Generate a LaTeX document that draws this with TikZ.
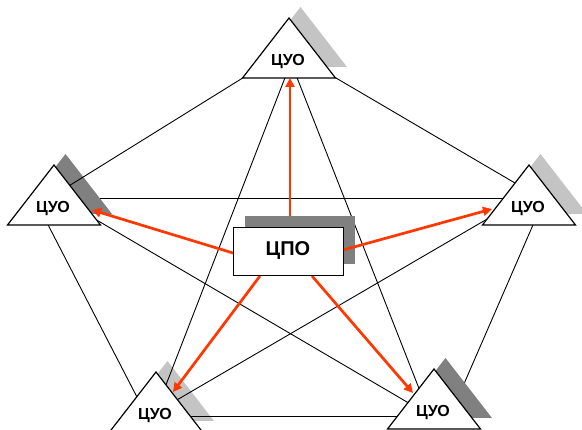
\documentclass[tikz,border=0pt]{standalone}
\usepackage{fontspec}
\setmainfont{Liberation Sans}
\usetikzlibrary{calc,arrows.meta}
\definecolor{lightshade}{RGB}{196,196,196}
\definecolor{darkshade}{RGB}{128,128,128}
\definecolor{boxshade}{RGB}{128,128,128}
\definecolor{linkred}{RGB}{255,55,0}
\begin{document}
\begin{tikzpicture}[x=1pt,y=-1pt,
  link/.style={line width=0.9pt, draw=black},
  tri/.style={draw=black, fill=white, line width=1.2pt},
  cuo/.style={font=\fontsize{16}{19}\selectfont\bfseries, anchor=base, inner sep=0pt},
  cpolabel/.style={font=\fontsize{20}{24}\selectfont\bfseries, anchor=base, inner sep=0pt},
  flow/.style={draw=linkred, line width=2.7pt, -{Triangle[length=9pt,width=9pt]}},
  unitbox/.style={minimum width=110pt, minimum height=48pt, inner sep=0pt, outer sep=0pt}]
\useasboundingbox (0,0) rectangle (582,430);
\clip (0,0) rectangle (582,430);

% apexes of the five unit triangles
\coordinate (T)  at (289,18);
\coordinate (L)  at (54,165);
\coordinate (R)  at (529,165);
\coordinate (BL) at (156,372);
\coordinate (BR) at (434,369);

% connector ends, hidden inside the triangles
\coordinate (TtoL)  at (291,48);    \coordinate (LtoT)  at (62,190.2);
\coordinate (TtoR)  at (291,51.6);  \coordinate (RtoT)  at (525,188.9);
\coordinate (LtoR)  at (54,198.5);  \coordinate (RtoL)  at (529,198.5);
\coordinate (TtoBL) at (288,70);    \coordinate (BLtoT) at (164,390);
\coordinate (TtoBR) at (294,70);    \coordinate (BRtoT) at (420,391);
\coordinate (LtoBL) at (44,217);    \coordinate (BLtoL) at (138.5,400);
\coordinate (LtoBR) at (90,216.1);  \coordinate (BRtoL) at (417,407.9);
\coordinate (RtoBL) at (492,216.2); \coordinate (BLtoR) at (172,402.8);
\coordinate (RtoBR) at (537.3,215); \coordinate (BRtoR) at (454.8,405);
\coordinate (BLtoBR) at (170,416);  \coordinate (BRtoBL) at (430,416);

% links lying below the shadows
\draw[link] (LtoR) -- (RtoL);
\draw[link] (RtoBR) -- (BRtoR);

% triangle shadows
\foreach \a/\s in {T/lightshade, L/darkshade, R/lightshade, BL/lightshade, BR/darkshade}
  \fill[\s] ($(\a)+(11.5,-11)$) -- ++(46.5,60) -- ++(-93,0) -- cycle;

% remaining links
\draw[link] (TtoL) -- (LtoT);
\draw[link] (TtoR) -- (RtoT);
\draw[link] (TtoBL) -- (BLtoT);
\draw[link] (TtoBR) -- (BRtoT);
\draw[link] (LtoBL) -- (BLtoL);
\draw[link] (LtoBR) -- (BRtoL);
\draw[link] (RtoBL) -- (BLtoR);
\draw[link] (BLtoBR) -- (BRtoBL);

% unit triangles with labels
\foreach \a in {T,L,R,BL,BR}{
  \draw[tri] (\a) -- ++(46.5,60) -- ++(-93,0) -- cycle;
  \node[cuo] (lbl\a) at ($(\a)+(-1,47.5)$) {ЦУО};
}

% central box shadow
\node[unitbox, fill=boxshade] (cposh) at (300,240) {};

% arrows from the centre to the units
\coordinate (upstart) at (290,216);
\coordinate (Tin)  at (290,78);
\coordinate (Lin)  at (92,210);
\coordinate (Rin)  at (492,209);
\coordinate (BLin) at (173,392);
\coordinate (BRin) at (413,393);
\coordinate (lstart)  at (233,253);
\coordinate (rstart)  at (343,250);
\coordinate (blstart) at (260,276);
\coordinate (brstart) at (312,276);
\draw[flow] (upstart) -- (Tin);
\draw[flow] (lstart) -- (Lin);
\draw[flow] (rstart) -- (Rin);
\draw[flow] (blstart) -- (BLin);
\draw[flow] (brstart) -- (BRin);

% central box
\node[unitbox, draw=black, fill=white, line width=1pt] (cpo) at (288,252) {};
\node[cpolabel] (cpotext) at (288,256) {ЦПО};
\end{tikzpicture}
\end{document}
